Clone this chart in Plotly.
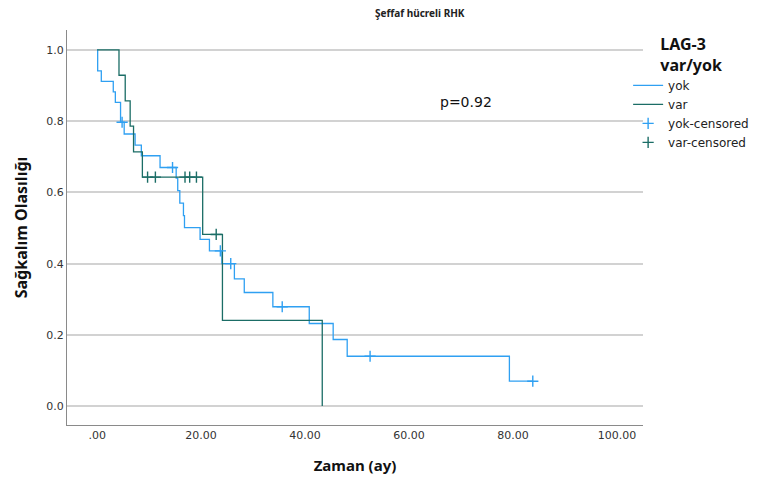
import plotly.graph_objects as go

# ---- data ----
group_names = ["yok", "var"]

yok_event_times = [0.1, 0.8, 3.1, 3.5, 4.5, 5.2, 7.3, 8.5, 12.1, 15.2, 15.5, 15.9,
                   16.6, 16.8, 19.8, 21.6, 24.0, 26.4, 28.3, 33.8, 40.8, 45.4, 48.1, 79.3]
yok_survival = [0.941, 0.912, 0.882, 0.853, 0.797, 0.764, 0.733, 0.703, 0.670, 0.640, 0.605, 0.570,
                0.535, 0.501, 0.468, 0.436, 0.400, 0.357, 0.319, 0.279, 0.232, 0.187, 0.140, 0.070]
yok_censor_times = [4.8, 14.5, 23.7, 25.7, 35.6, 52.5, 83.8]

var_event_times = [4.2, 5.4, 6.35, 7.0, 8.7, 20.3, 24.1, 43.3]
var_survival = [0.929, 0.857, 0.786, 0.714, 0.643, 0.482, 0.241, 0.0]
var_censor_times = [9.7, 11.2, 16.9, 17.8, 19.1, 22.9]

x_tick_values = [0, 20, 40, 60, 80, 100]
x_tick_labels = [".00", "20.00", "40.00", "60.00", "80.00", "100.00"]
y_tick_values = [0.0, 0.2, 0.4, 0.6, 0.8, 1.0]
y_tick_labels = ["0.0", "0.2", "0.4", "0.6", "0.8", "1.0"]

p_value_text = "p=0.92"
chart_title = "Şeffaf hücreli RHK"
legend_title = "LAG-3<br>var/yok"
x_title = "Zaman (ay)"
y_title = "Sağkalım Olasılığı"

colors = {"yok": "#2fa0f2", "var": "#1b6d66"}


def step_value(times, surv, t):
    s = 1.0
    for ti, si in zip(times, surv):
        if ti <= t:
            s = si
    return s


def curve(times, surv, censors):
    xs = [0.0] + list(times)
    ys = [1.0] + list(surv)
    last = max(censors) if censors else 0
    if last > xs[-1]:
        xs.append(last)
        ys.append(ys[-1])
    return xs, ys


fig = go.Figure()
series = {
    "yok": (yok_event_times, yok_survival, yok_censor_times),
    "var": (var_event_times, var_survival, var_censor_times),
}

for name in group_names:
    t, s, c = series[name]
    xs, ys = curve(t, s, c)
    fig.add_trace(go.Scatter(x=xs, y=ys, mode="lines", name=name,
                             line=dict(shape="hv", color=colors[name], width=1.3)))

for name in group_names:
    t, s, c = series[name]
    cy = [step_value(t, s, ct) for ct in c]
    fig.add_trace(go.Scatter(x=c, y=cy, mode="markers", name=name + "-censored",
                             marker=dict(symbol="cross-thin", size=8,
                                         color=colors[name],
                                         line=dict(width=1.4, color=colors[name]))))

tick_font = dict(family="DejaVu Sans", size=11, color="#333333")
x_title_font = dict(family="Noto Sans", size=15, color="#111111")
y_title_font = dict(family="Noto Sans", size=16, color="#111111")

fig.update_layout(
    width=766, height=480,
    margin=dict(l=67, r=123, t=30, b=55, autoexpand=False),
    paper_bgcolor="white", plot_bgcolor="white",
    title=dict(text="<b>" + chart_title + "</b>", x=0.548, xanchor="center",
               y=0.971, yanchor="middle",
               font=dict(family="Noto Sans", size=10, color="#222222")),
    xaxis=dict(range=[-5.8, 105], tickvals=x_tick_values, ticktext=x_tick_labels,
               showgrid=False, zeroline=False, showline=True, linecolor="#8a8a8a",
               linewidth=1, ticks="", tickfont=tick_font, automargin=False,
               title=dict(text="<b>" + x_title + "</b>", font=x_title_font, standoff=19)),
    yaxis=dict(range=[-0.053, 1.056], tickvals=y_tick_values, ticktext=y_tick_labels,
               showgrid=True, gridcolor="#d2d2d2", gridwidth=1.5, zeroline=False,
               showline=True, linecolor="#8a8a8a", linewidth=1, ticks="",
               tickfont=tick_font, automargin=False,
               title=dict(text="<b>" + y_title + "</b>", font=y_title_font, standoff=14)),
    legend=dict(xref="container", yref="container", x=0.82, xanchor="left",
                y=0.939, yanchor="top",
                title=dict(text="<b>" + legend_title + "</b>", side="top center",
                           font=dict(family="Noto Sans", size=16, color="#111111")),
                font=dict(family="DejaVu Sans", size=12, color="#222222"),
                itemwidth=30, bgcolor="rgba(0,0,0,0)"),
    showlegend=True,
    annotations=[dict(text=p_value_text, x=71, y=0.853, xref="x", yref="y",
                      showarrow=False, font=dict(family="DejaVu Sans", size=14, color="#111111"))],
)

fig.write_html("out.html", config={"displayModeBar": False},
               post_script="document.body.style.margin='0';")
